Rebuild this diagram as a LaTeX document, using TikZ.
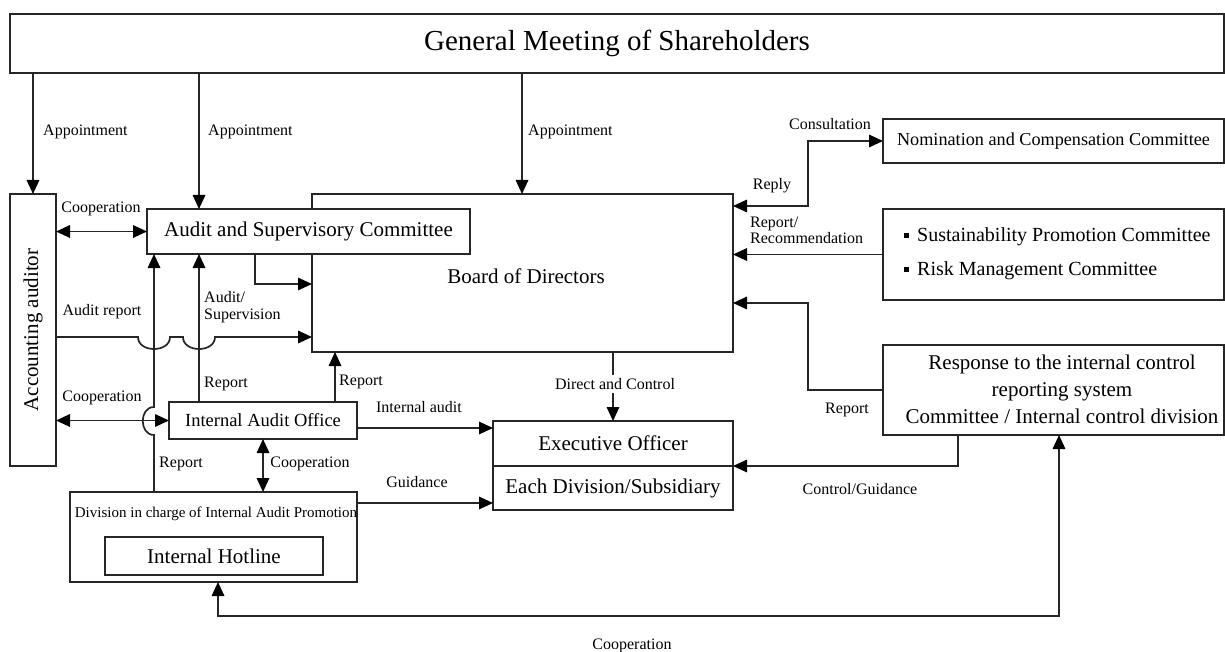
\documentclass[tikz,border=0pt]{standalone}
\usepackage{fontspec}
\setmainfont{Liberation Serif}
\usetikzlibrary{arrows.meta}
\begin{document}
\begin{tikzpicture}[x=1pt,y=-1pt,
  box/.style={draw=black!85, line width=1.7pt, fill=white, inner sep=0pt, outer sep=0pt, font=\fontsize{21}{25}\selectfont},
  txt/.style={inner sep=0pt, font=\fontsize{21}{27}\selectfont, align=center},
  lbl/.style={inner sep=1pt, font=\fontsize{16}{19}\selectfont, align=left},
  con/.style={draw=black!85, line width=1.7pt},
  arr/.style={con, -{Triangle[length=14pt,width=12.5pt,color=black]}},
  arrb/.style={con, {Triangle[length=14pt,width=12.5pt,color=black]}-{Triangle[length=14pt,width=12.5pt,color=black]}}]
\useasboundingbox (0,0) rectangle (1225,652);
\fill[white] (0,0) rectangle (1225,652);

% helper coordinates
\coordinate (x154) at (154,0);
\coordinate (x199) at (199,0);
\coordinate (x255) at (255,0);
\coordinate (x335) at (335,0);
\coordinate (x522) at (522,0);
\coordinate (x613) at (613,0);
\coordinate (x808) at (808,0);
\coordinate (x958) at (958,0);
\coordinate (x1059) at (1059,0);
\coordinate (x218) at (218,0);
\coordinate (y206) at (0,206);
\coordinate (y284) at (0,284);
\coordinate (y303) at (0,303);
\coordinate (y337) at (0,337);
\coordinate (y428) at (0,428);
\coordinate (y503) at (0,503);
\coordinate (y616) at (0,616);

% boxes
\node[box, minimum width=1214, minimum height=59, font=\fontsize{29}{34}\selectfont] (gm) at (617,43.5) {General Meeting of Shareholders};
\node[box, minimum width=46, minimum height=272] (acc) at (33,330) {};
\node[txt, rotate=90] (acct) at (acc.center) {Accounting auditor};
\node[box, minimum width=421, minimum height=158] (bod) at (522.5,273) {};
\node[txt] (bodt) at (526,276) {Board of Directors};
\node[box, minimum width=323, minimum height=45] (asc) at (308.5,231.5) {Audit and Supervisory Committee};
\node[box, minimum width=188, minimum height=37, font=\fontsize{18.5}{22}\selectfont] (iao) at (263,420.5) {Internal Audit Office};
\node[box, minimum width=240, minimum height=45] (eo) at (613,443.5) {Executive Officer};
\node[box, minimum width=240, minimum height=44] (eds) at (613,488) {Each Division/Subsidiary};
\node[box, minimum width=287, minimum height=90] (div) at (213.5,537) {};
\node[inner sep=0pt, font=\fontsize{15}{18}\selectfont] (divt) at (216,514) {Division in charge of Internal Audit Promotion};
\node[box, minimum width=218, minimum height=38] (hot) at (214,556) {Internal Hotline};
\node[box, minimum width=341, minimum height=44, font=\fontsize{18.2}{22}\selectfont] (nom) at (1053.5,141) {Nomination and Compensation Committee};
\node[box, minimum width=341, minimum height=91] (sus) at (1053.5,254.5) {};
\node[inner sep=0pt, anchor=west, font=\fontsize{20}{24}\selectfont] (sus1) at (904,237) {\raisebox{4pt}{\rule{5pt}{5pt}}\hspace{8pt}Sustainability Promotion Committee};
\node[inner sep=0pt, anchor=west, font=\fontsize{20}{24}\selectfont] (sus2) at (904,271) {\raisebox{4pt}{\rule{5pt}{5pt}}\hspace{8pt}Risk Management Committee};
\node[box, minimum width=341, minimum height=90] (res) at (1053.5,390) {};
\node[txt] (rest) at (1062,389) {Response to the internal control\\reporting system\\Committee / Internal control division};

% appointments
\draw[arr] (acc.north |- gm.south) -- (acc.north);
\node[lbl, anchor=west] (ap1) at (42,132) {Appointment};
\draw[arr] (x199 |- gm.south) -- (x199 |- asc.north);
\node[lbl, anchor=west] (ap2) at (207,132) {Appointment};
\draw[arr] (x522 |- gm.south) -- (x522 |- bod.north);
\node[lbl, anchor=west] (ap3) at (527,132) {Appointment};

% accounting auditor <-> ASC
\draw[arrb] (acc.east |- asc.west) -- (asc.west);
\node[lbl] (coop1) at (101,209) {Cooperation};

% ASC -> Board
\draw[arr] (x255 |- asc.south) |- (bod.west |- y284);

% audit report with hops
\draw[arr] (acc.east |- y337) -- (138,337) .. controls (138,353) and (170,353) .. (170,337)
  -- (183,337) .. controls (183,353) and (215,353) .. (215,337) -- (bod.west |- y337);
\node[lbl] (arep) at (102,312) {Audit report};

% Division -> ASC (report) with hop
\draw[arr] (x154 |- div.north) -- (154,435) .. controls (139,435) and (139,407) .. (154,407) -- (x154 |- asc.south);
\node[lbl] (rep1) at (181,464) {Report};

% IAO -> ASC
\draw[arr] (x199 |- iao.north) -- (x199 |- asc.south);
\node[lbl, anchor=west] (ausu) at (203,307) {Audit/\\[-2pt]Supervision};
\node[lbl] (rep2) at (226,384) {Report};

% accounting auditor <-> IAO
\draw[arrb] (acc.east |- iao.west) -- (iao.west);
\node[lbl] (coop2) at (102,398) {Cooperation};

% IAO -> Board
\draw[arr] (x335 |- iao.north) -- (x335 |- bod.south);
\node[lbl] (rep3) at (361,382) {Report};

% IAO -> EO
\draw[arr] (iao.east |- y428) -- (eo.west |- y428);
\node[lbl] (ia) at (419,407) {Internal audit};

% Division -> Each Division
\draw[arr] (div.east |- y503) -- (eds.west |- y503);
\node[lbl] (gd) at (417,482) {Guidance};

% IAO <-> Division
\draw[arrb] (iao.south) -- (iao.south |- div.north);
\node[lbl] (coop3) at (310,464) {Cooperation};

% Board -> EO
\draw[arr] (x613 |- bod.south) -- (eo.north);
\node[lbl, fill=white, inner sep=3pt] (dc) at (615,384) {Direct and Control};

% Board <-> Nomination
\draw[arrb] (bod.east |- y206) -- (x808 |- y206) |- (nom.west);
\node[lbl] (cons) at (830,124) {Consultation};
\node[lbl] (reply) at (772,186) {Reply};

% Sustainability -> Board
\draw[arr] (sus.west) -- (bod.east |- sus.west);
\node[lbl, anchor=west] (rr) at (749,230) {Report/\\[-3pt]Recommendation};

% Response -> Board
\draw[arr] (res.west) -- (x808 |- res.west) |- (bod.east |- y303);
\node[lbl] (rep4) at (847,410) {Report};

% Response -> EO
\draw[arr] (x958 |- res.south) |- (eo.south east);
\node[lbl] (cg) at (860,489) {Control/Guidance};

% bottom cooperation
\draw[arrb] (x218 |- div.south) |- (x1059 |- y616) -- (x1059 |- res.south);
\node[lbl] (coop4) at (632,646) {Cooperation};
\end{tikzpicture}
\end{document}
